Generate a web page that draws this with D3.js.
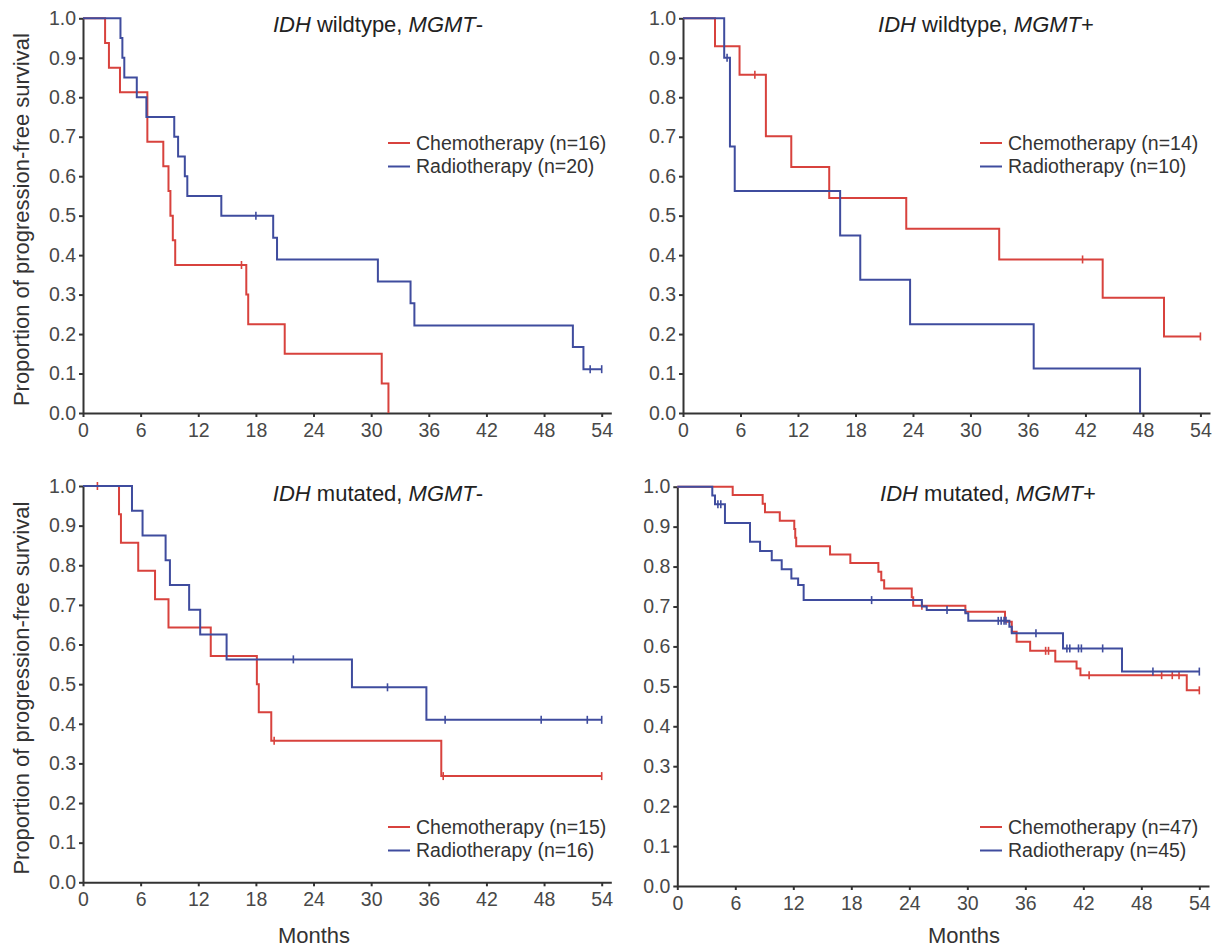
<!DOCTYPE html>
<html>
<head>
<meta charset="utf-8">
<script src="https://cdn.jsdelivr.net/npm/d3@7"></script>
<style>
body { margin: 0; background: #fff; }
svg { font-family: "Liberation Sans", Arial, sans-serif; }
.axis path, .axis line { stroke: #333; stroke-width: 2; }
.axis text { fill: #484848; font-size: 19.5px; font-family: "Liberation Sans", Arial, sans-serif; }
</style>
</head>
<body>
<svg id="chart" width="1216" height="947"></svg>
<script>
// tick labels
var xTicks = [0, 6, 12, 18, 24, 30, 36, 42, 48, 54];
var yTicks = [0, 0.1, 0.2, 0.3, 0.4, 0.5, 0.6, 0.7, 0.8, 0.9, 1.0];

var seriesNames = ["Chemotherapy", "Radiotherapy"];
var Line_color = ["#d8423d", "#3f4c9e"];

// IDH wildtype, MGMT-
var wtNegChemoT = [0, 2.3, 2.7, 3.85, 6.7, 8.36, 8.9, 9.1, 9.35, 9.6, 17.0, 17.2, 21.0, 31.1, 31.8];
var wtNegChemoS = [1, 0.9375, 0.875, 0.8125, 0.6875, 0.625, 0.5625, 0.5, 0.4375, 0.375, 0.3, 0.225, 0.15, 0.075, 0];
var wtNegChemoCens = [16.5];
var wtNegRadioT = [0, 3.9, 4.1, 4.3, 5.6, 6.6, 9.5, 9.9, 10.6, 10.86, 14.4, 19.8, 20.2, 30.7, 34.1, 34.5, 51.0, 52.1];
var wtNegRadioS = [1, 0.95, 0.9, 0.85, 0.8, 0.75, 0.7, 0.65, 0.6, 0.55, 0.5, 0.444, 0.389, 0.333, 0.278, 0.222, 0.167, 0.111];
var wtNegRadioCens = [18.0, 52.8, 54];

// IDH wildtype, MGMT+
var wtPosChemoT = [0, 3.34, 5.9, 8.65, 11.3, 15.26, 23.3, 33.0, 43.8, 50.2];
var wtPosChemoS = [1, 0.929, 0.857, 0.701, 0.623, 0.545, 0.467, 0.389, 0.292, 0.194];
var wtPosChemoCens = [7.5, 41.7, 54];
var wtPosRadioT = [0, 4.3, 4.9, 5.4, 16.4, 18.5, 23.7, 36.6, 47.7];
var wtPosRadioS = [1, 0.9, 0.675, 0.5625, 0.45, 0.3375, 0.225, 0.1125, 0];
var wtPosRadioCens = [4.6];

// IDH mutated, MGMT-
var mutNegChemoT = [0, 3.75, 3.95, 5.75, 7.5, 8.9, 13.3, 18.1, 18.3, 19.6, 37.3];
var mutNegChemoS = [1, 0.929, 0.857, 0.786, 0.714, 0.643, 0.571, 0.5, 0.429, 0.357, 0.268];
var mutNegChemoCens = [1.5, 19.9, 37.5, 54];
var mutNegRadioT = [0, 5.1, 6.2, 8.6, 9.05, 11.05, 12.2, 14.95, 28.0, 35.75];
var mutNegRadioS = [1, 0.9375, 0.875, 0.8125, 0.75, 0.6875, 0.625, 0.5625, 0.492, 0.41];
var mutNegRadioCens = [21.9, 31.7, 37.7, 47.7, 52.5, 54];

// IDH mutated, MGMT+
var mutPosChemoT = [0, 5.73, 8.83, 9.07, 10.6, 12.1, 12.2, 12.3, 15.8, 17.9, 20.8, 21.1, 21.4, 24.25, 24.4, 29.8, 33.9, 34.6, 35.1, 36.5, 39.1, 41.3, 41.7, 52.7];
var mutPosChemoS = [1, 0.979, 0.957, 0.936, 0.915, 0.894, 0.872, 0.851, 0.830, 0.809, 0.787, 0.766, 0.745, 0.723, 0.702, 0.687, 0.662, 0.637, 0.612, 0.589, 0.562, 0.545, 0.528, 0.49];
var mutPosChemoCens = [25.3, 38.1, 38.4, 42.6, 50.1, 51.2, 51.9, 54];
var mutPosRadioT = [0, 3.62, 3.9, 4.93, 7.52, 8.56, 9.77, 10.8, 11.8, 12.5, 13.07, 25.3, 25.8, 29.8, 30.1, 34.35, 34.6, 39.9, 46.0];
var mutPosRadioS = [1, 0.978, 0.956, 0.909, 0.862, 0.839, 0.816, 0.793, 0.770, 0.754, 0.716, 0.70, 0.691, 0.683, 0.664, 0.649, 0.633, 0.595, 0.537];
var mutPosRadioCens = [4.2, 4.5, 20.1, 27.9, 33.2, 33.5, 33.8, 34.0, 37.1, 40.3, 40.6, 41.5, 41.8, 44.0, 49.2, 54];

var panels = [
	{ idh: "wildtype", sign: "-", n: [16, 20],
	  T: [wtNegChemoT, wtNegRadioT], S: [wtNegChemoS, wtNegRadioS], C: [wtNegChemoCens, wtNegRadioCens],
	  x0: 83, x1: 611.3, y0: 413, y1: 18.3, titleX: 378, titleY: 32, legX: 388, legY: 143, months: null },
	{ idh: "wildtype", sign: "+", n: [14, 10],
	  T: [wtPosChemoT, wtPosRadioT], S: [wtPosChemoS, wtPosRadioS], C: [wtPosChemoCens, wtPosRadioCens],
	  x0: 683, x1: 1210, y0: 413, y1: 18.3, titleX: 986, titleY: 32, legX: 980, legY: 143, months: null },
	{ idh: "mutated", sign: "-", n: [15, 16],
	  T: [mutNegChemoT, mutNegRadioT], S: [mutNegChemoS, mutNegRadioS], C: [mutNegChemoCens, mutNegRadioCens],
	  x0: 83, x1: 611.3, y0: 882.3, y1: 486, titleX: 378, titleY: 501, legX: 388, legY: 827, months: 314 },
	{ idh: "mutated", sign: "+", n: [47, 45],
	  T: [mutPosChemoT, mutPosRadioT], S: [mutPosChemoS, mutPosRadioS], C: [mutPosChemoCens, mutPosRadioCens],
	  x0: 677.3, x1: 1209, y0: 886, y1: 486.7, titleX: 988, titleY: 501, legX: 980, legY: 827, months: 964 }
];

var svg = d3.select("#chart");

panels.forEach(function(p, k) {
	var g = svg.append("g").attr("class", "panel");
	var x = d3.scaleLinear().domain([0, 55]).range([p.x0, p.x1]);
	var y = d3.scaleLinear().domain([0, 1]).range([p.y0, p.y1]);

	g.append("g")
		.attr("class", "axis")
		.attr("transform", "translate(0," + p.y0 + ")")
		.call(d3.axisBottom(x).tickValues(xTicks).tickSize(4).tickSizeOuter(0).tickPadding(6));
	g.append("g")
		.attr("class", "axis")
		.attr("transform", "translate(" + p.x0 + ",0)")
		.call(d3.axisLeft(y).tickValues(yTicks).tickSize(4).tickSizeOuter(0).tickPadding(3).tickFormat(d3.format(".1f")));

	var line = d3.line()
		.x(function(d){ return x(d[0]); })
		.y(function(d){ return y(d[1]); })
		.curve(d3.curveStepAfter);

	[0, 1].forEach(function(s) {
		var T = p.T[s], S = p.S[s], C = p.C[s];
		var pts = T.map(function(t, i){ return [t, S[i]]; });
		var end = Math.max(T[T.length-1], d3.max(C));
		if (end > T[T.length-1]) pts.push([end, S[S.length-1]]);

		g.append("path")
			.datum(pts)
			.attr("d", line)
			.style("fill", "none")
			.style("stroke", Line_color[s])
			.style("stroke-width", 2);

		// censor marks
		g.selectAll(".cens" + s)
			.data(C)
		.enter().append("line")
			.attr("class", "cens" + s)
			.attr("x1", function(c){ return x(c); })
			.attr("x2", function(c){ return x(c); })
			.attr("y1", function(c){ return y(S[d3.bisectRight(T, c) - 1]) - 4; })
			.attr("y2", function(c){ return y(S[d3.bisectRight(T, c) - 1]) + 4; })
			.style("stroke", Line_color[s])
			.style("stroke-width", 1.6);
	});

	var title = g.append("text")
		.attr("x", p.titleX)
		.attr("y", p.titleY)
		.attr("text-anchor", "middle")
		.style("font-size", "22px")
		.style("fill", "#222");
	title.append("tspan").style("font-style", "italic").text("IDH");
	title.append("tspan").text(" " + p.idh + ", ");
	title.append("tspan").style("font-style", "italic").text("MGMT");
	title.append("tspan").text(p.sign);

	[0, 1].forEach(function(s) {
		var ly = p.legY + s * 23.5;
		g.append("line")
			.attr("x1", p.legX).attr("x2", p.legX + 22)
			.attr("y1", ly).attr("y2", ly)
			.style("stroke", Line_color[s])
			.style("stroke-width", 2);
		g.append("text")
			.attr("x", p.legX + 28)
			.attr("y", ly + 6.5)
			.style("font-size", "19.5px")
			.style("fill", "#333")
			.text(seriesNames[s] + " (n=" + p.n[s] + ")");
	});

	if (k % 2 == 0) {
		g.append("text")
			.attr("transform", "translate(29," + ((p.y0 + p.y1) / 2 + 4) + ") rotate(-90)")
			.attr("text-anchor", "middle")
			.style("font-size", "22px")
			.style("fill", "#333")
			.text("Proportion of progression-free survival");
	}
	if (p.months) {
		g.append("text")
			.attr("x", p.months)
			.attr("y", 943)
			.attr("text-anchor", "middle")
			.style("font-size", "22px")
			.style("fill", "#333")
			.text("Months");
	}
});
</script>
</body>
</html>
